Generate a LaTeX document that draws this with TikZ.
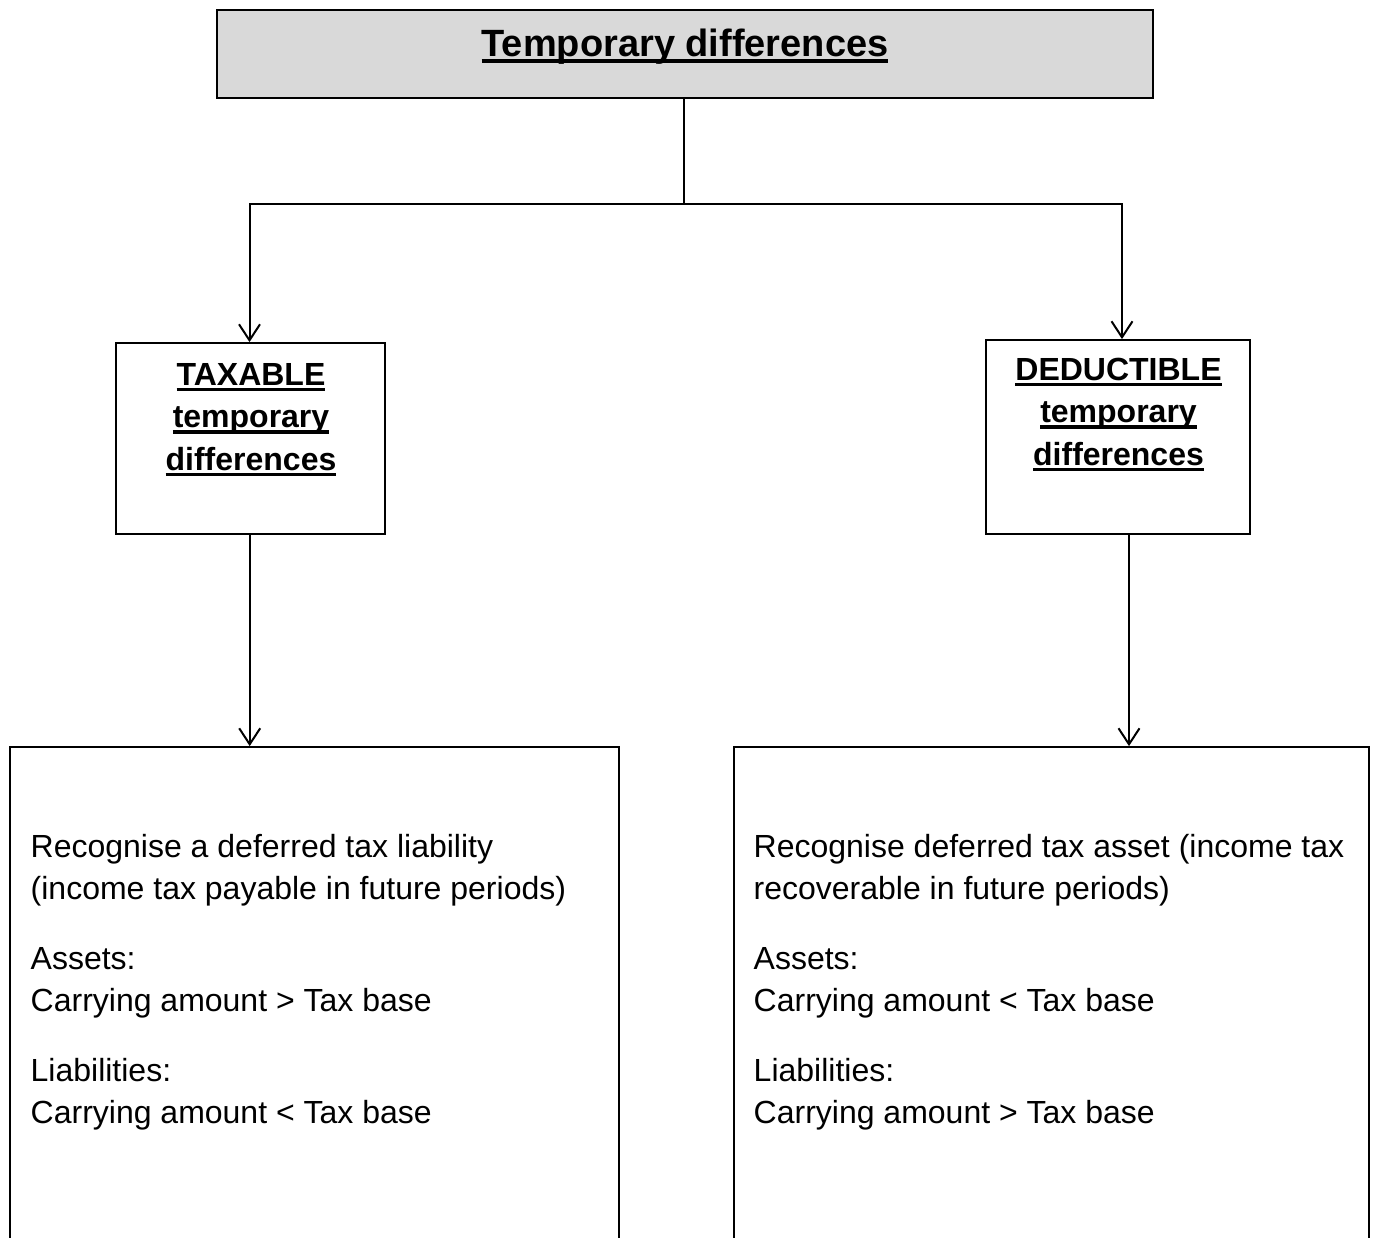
\documentclass[tikz,border=0pt]{standalone}
\usepackage{fontspec}
\setmainfont{Liberation Sans}
\usetikzlibrary{arrows.meta}

\definecolor{titlefill}{RGB}{217,217,217}

% underline at a fixed depth, running through descenders
\newsavebox\ulinebox
\newcommand\ulin[1]{\leavevmode\sbox\ulinebox{#1}%
  \mbox{\rlap{\rule[-0.19em]{\wd\ulinebox}{0.1em}}\usebox\ulinebox}}

\tikzset{
  frame/.style={draw=black, line width=1.8pt, inner sep=0pt},
  titlebox/.style={frame, fill=titlefill, minimum width=936pt, minimum height=88pt},
  midbox/.style={frame, fill=white},
  outbox/.style={frame},
  titletext/.style={inner sep=0pt, font=\fontsize{38}{46}\selectfont\bfseries},
  headtext/.style={inner sep=0pt, align=center, text width=260pt,
    font=\fontsize{32}{42.5}\selectfont\bfseries},
  bodytext/.style={inner sep=0pt, align=flush left, text width=610pt,
    font=\fontsize{32}{42}\selectfont},
  conn/.style={line width=2pt, line cap=rect},
  arr/.style={line width=2pt, -{Straight Barb[length=16pt,width=21pt]}}
}

\begin{document}
\begin{tikzpicture}[x=1pt, y=-1pt]
  \useasboundingbox (0,0) rectangle (1373,1237);
  \clip (0,0) rectangle (1373,1237);
  \fill[white] (0,0) rectangle (1373,1237);

  % heading box
  \node[titlebox] (top) at (685,54) {};
  \node[titletext, anchor=base] (toplabel) at (685,56) {\ulin{Temporary differences}};

  % the two kinds of difference
  \node[midbox, minimum width=269pt, minimum height=191pt] (tax) at (250.5,438.5) {};
  \node[headtext, anchor=base] (taxlabel) at (251,385)
    {\ulin{TAXABLE}\\ \ulin{temporary}\\ \ulin{differences}};

  \node[midbox, minimum width=264pt, minimum height=194pt] (ded) at (1118,437) {};
  \node[headtext, anchor=base] (dedlabel) at (1118.5,380)
    {\ulin{DEDUCTIBLE}\\ \ulin{temporary}\\ \ulin{differences}};

  % consequences, boxes open at the bottom
  \node[outbox, minimum width=609pt, minimum height=553pt] (liab) at (314.5,1023.5) {};
  \node[bodytext, anchor=base west] (liabtext) at (30.5,857)
    {Recognise a deferred tax liability\\
     (income tax payable in future periods)\\[28pt]
     Assets:\\
     Carrying amount > Tax base\\[28pt]
     Liabilities:\\
     Carrying amount < Tax base};

  \node[outbox, minimum width=635pt, minimum height=553pt] (asset) at (1051.5,1023.5) {};
  \node[bodytext, anchor=base west] (assettext) at (753.5,857)
    {Recognise deferred tax asset (income tax\\
     recoverable in future periods)\\[28pt]
     Assets:\\
     Carrying amount < Tax base\\[28pt]
     Liabilities:\\
     Carrying amount > Tax base};

  % branching connector
  \coordinate (lsplit) at (249.5,204);
  \coordinate (rsplit) at (1122,204);
  \draw[conn] (top.south -| 684,0) -- (684,204);
  \draw[conn] (lsplit) -- (rsplit);
  \draw[arr] (lsplit) -- (lsplit |- tax.north);
  \draw[arr] (rsplit) -- (rsplit |- ded.north);

  % down to the consequences
  \coordinate (taxout) at (249.7,534);
  \coordinate (dedout) at (1129,534);
  \draw[arr] (tax.south -| taxout) -- (taxout |- liab.north);
  \draw[arr] (ded.south -| dedout) -- (dedout |- asset.north);
\end{tikzpicture}
\end{document}
